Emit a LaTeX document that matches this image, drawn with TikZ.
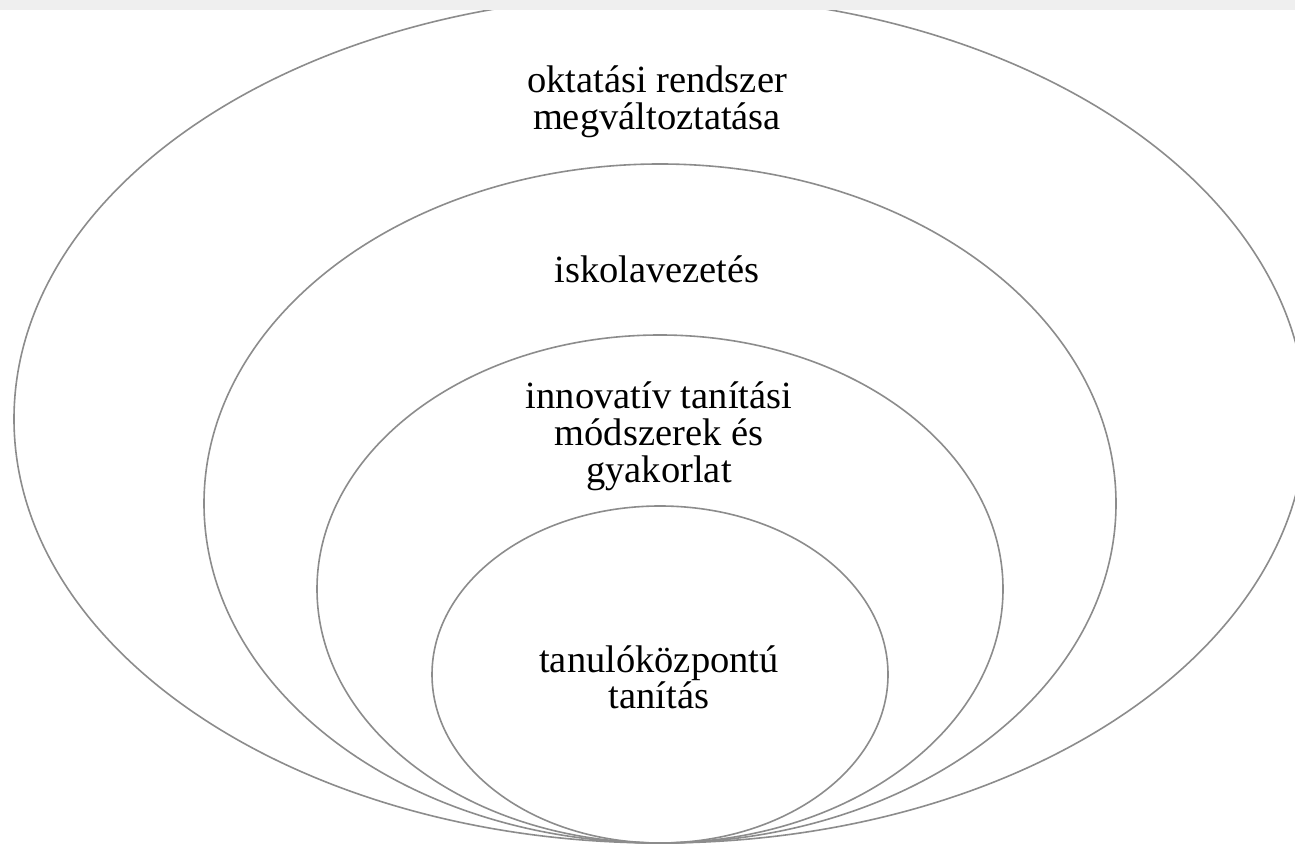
\documentclass[tikz,border=0pt]{standalone}
\usepackage{fontspec}
\setmainfont{Liberation Serif}
\begin{document}
\begin{tikzpicture}[x=1pt,y=1pt,
  ring/.style={draw=ringgray, line width=1.6pt},
  label/.style={font=\fontsize{38.5}{37}\selectfont, align=center, anchor=base, inner sep=0pt}]
\definecolor{ringgray}{RGB}{140,140,140}
\definecolor{bandgray}{RGB}{239,239,239}
\useasboundingbox (0,0) rectangle (1295,846);
\clip (0,0) rectangle (1295,846);
\fill[white] (0,0) rectangle (1295,846);
% nested rings, all touching at the bottom
\draw[ring] (660,427) ellipse [x radius=646, y radius=424];
\draw[ring] (660,342.5) ellipse [x radius=456, y radius=339.5];
\draw[ring] (660,257) ellipse [x radius=343, y radius=254];
\draw[ring] (660,171.5) ellipse [x radius=228, y radius=168.5];
% labels (base anchor sits on the last line)
\node[label] (sys) at (657,716) {oktatási rendszer\\megváltoztatása};
\node[label] (lead) at (657,563) {iskolavezetés};
\node[label] (meth) at (659,363) {innovatív tanítási\\módszerek és\\gyakorlat};
\node[label] (core) at (659,137) {tanulóközpontú\\tanítás};
% strip along the top edge
\fill[bandgray] (0,836) rectangle (1295,846);
\end{tikzpicture}
\end{document}
